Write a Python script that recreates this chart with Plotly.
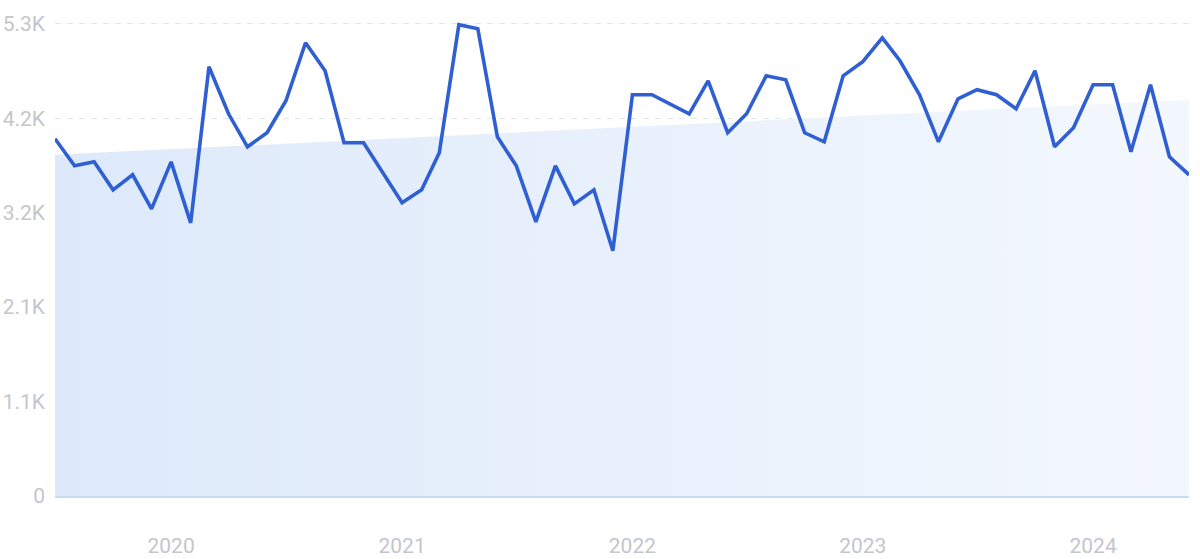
import plotly.graph_objects as go

months = [f"{2019 + (6 + i) // 12}-{(6 + i) % 12 + 1:02d}-01" for i in range(60)]

values = [3994, 3691, 3736, 3423, 3591, 3210, 3736, 3054, 4799, 4273,
          3904, 4061, 4419, 5067, 4754, 3949, 3949, 3624, 3278, 3423,
          3837, 5269, 5224, 4016, 3691, 3065, 3691, 3266, 3423, 2741,
          4486, 4486, 4385, 4273, 4642, 4061, 4273, 4698, 4653, 4061,
          3960, 4698, 4855, 5123, 4866, 4486, 3960, 4441, 4542, 4486,
          4329, 4754, 3904, 4117, 4598, 4598, 3848, 4598, 3792, 3591]

trend_x = ["2019-07-01", "2024-06-01"]
trend_values = [3814, 4430]

tick_vals = [0, 1056, 2112, 3168, 4224, 5280]
tick_text = ["0", "1.1K", "2.1K", "3.2K", "4.2K", "5.3K"]
year_ticks = ["2020-01-01", "2021-01-01", "2022-01-01", "2023-01-01", "2024-01-01"]
year_labels = ["2020", "2021", "2022", "2023", "2024"]

fig = go.Figure()
fig.add_trace(go.Scatter(
    x=trend_x, y=trend_values, mode="lines", line=dict(width=0),
    fill="tozeroy",
    fillgradient=dict(type="horizontal",
                      colorscale=[[0, "#dde9fa"], [1, "#f4f8fe"]]),
    hoverinfo="skip", showlegend=False,
))
fig.add_trace(go.Scatter(
    x=months, y=values, mode="lines",
    line=dict(color="#2f5fd3", width=3.6, shape="linear"),
    showlegend=False,
))

fig.update_layout(
    width=1200, height=559,
    margin=dict(l=55, r=11, t=13, b=63),
    paper_bgcolor="white", plot_bgcolor="white",
    font=dict(family="Roboto, sans-serif", color="#c4c6cc", size=20),
)
fig.update_xaxes(
    range=["2019-07-01", "2024-06-01"],
    tickvals=year_ticks, ticktext=year_labels,
    showgrid=False, zeroline=False, automargin=False,
    showline=True, linecolor="#c9dbf4", linewidth=1.5,
    ticks="", ticklabelstandoff=30,
    tickfont=dict(size=21, color="#c4c6cc"),
)
fig.update_yaxes(
    range=[0, 5400],
    tickvals=tick_vals, ticktext=tick_text, automargin=False,
    showgrid=True, gridcolor="#e1e7ef", griddash="6px,6px", gridwidth=1,
    zeroline=False, showline=False, ticks="",
    ticklabelstandoff=9,
    tickfont=dict(size=21, color="#c4c6cc"),
)

fig.write_html(
    "out.html",
    config={"displayModeBar": False},
    post_script="document.body.style.margin='0';document.body.style.overflow='hidden';",
)
